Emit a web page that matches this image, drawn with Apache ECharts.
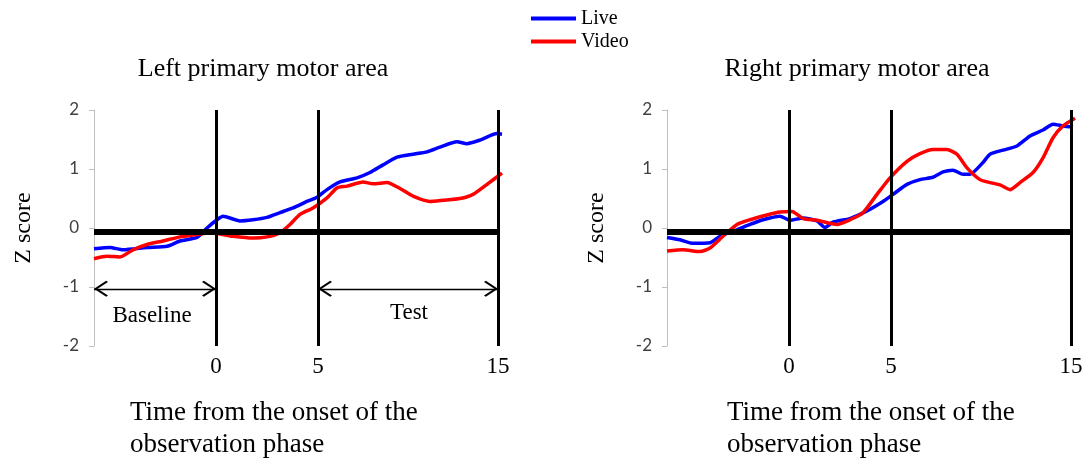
<!DOCTYPE html>
<html>
<head>
<meta charset="utf-8">
<script src="https://cdn.jsdelivr.net/npm/echarts@6/dist/echarts.min.js"></script>
<style>
  html, body { margin: 0; padding: 0; background: #fff; }
  #chart { width: 1091px; height: 465px; }
</style>
</head>
<body>
<div id="chart"></div>
<script>
// x is a sample index along the trace; the marks 0 / 5 / 15 s sit at these indices
var markX = [61, 112, 202];
var markText = ['0', '5', '15'];
var yTicks = [-2, -1, 0, 1, 2];

// Left primary motor area
var leftLiveX = [0, 8, 14.5, 26.5, 36.5, 43, 51.5, 56.5, 61.5, 64.5, 73, 79.5, 86.5, 93, 99.5, 106.5, 111.5, 116.5, 123, 131.5, 138, 144.5, 151.5, 159.5, 166.5, 173, 181.5, 186.5, 193, 201.5, 204];
var leftLiveY = [-0.35, -0.33, -0.37, -0.33, -0.31, -0.22, -0.16, 0, 0.14, 0.2, 0.12, 0.14, 0.18, 0.26, 0.34, 0.45, 0.52, 0.65, 0.78, 0.85, 0.94, 1.07, 1.2, 1.25, 1.29, 1.37, 1.46, 1.43, 1.49, 1.6, 1.59];
var leftVideoX = [0, 6.5, 13, 19.5, 26.5, 34.5, 43, 51.5, 58, 69.5, 79.5, 86.5, 93, 98, 103, 109.5, 116.5, 121.5, 126.5, 134.5, 139.5, 146.5, 153, 159.5, 168, 174.5, 183, 189.5, 196.5, 204];
var leftVideoY = [-0.52, -0.48, -0.49, -0.37, -0.28, -0.22, -0.15, -0.11, -0.08, -0.14, -0.17, -0.15, -0.08, 0.06, 0.23, 0.34, 0.51, 0.68, 0.71, 0.78, 0.75, 0.77, 0.67, 0.54, 0.45, 0.47, 0.5, 0.57, 0.74, 0.93];

// Right primary motor area
var rightLiveX = [0, 6.5, 13, 21.5, 26.5, 35, 41.5, 48, 56.5, 61.5, 68, 75, 79, 83, 91.5, 100, 108, 113, 120, 126.5, 133, 138, 143, 148, 151.5, 158, 161.5, 168, 175, 181.5, 188, 193, 198, 203];
var rightLiveY = [-0.16, -0.2, -0.26, -0.25, -0.14, -0.03, 0.06, 0.14, 0.2, 0.13, 0.17, 0.12, 0.01, 0.1, 0.16, 0.29, 0.45, 0.57, 0.74, 0.82, 0.86, 0.95, 0.98, 0.91, 0.91, 1.11, 1.25, 1.32, 1.39, 1.56, 1.66, 1.76, 1.73, 1.71];
var rightVideoX = [0, 8, 16.5, 21.5, 28, 35, 41.5, 50, 56.5, 62.5, 68, 75, 85, 91.5, 98, 105, 111.5, 120, 126.5, 133, 140, 145, 150, 156.5, 161.5, 166.5, 171.5, 176.5, 183, 188, 193, 198, 204];
var rightVideoY = [-0.39, -0.37, -0.4, -0.34, -0.14, 0.06, 0.14, 0.22, 0.27, 0.28, 0.16, 0.13, 0.06, 0.14, 0.26, 0.57, 0.85, 1.13, 1.26, 1.33, 1.33, 1.25, 1.02, 0.82, 0.77, 0.73, 0.65, 0.77, 0.94, 1.19, 1.53, 1.73, 1.86];

var serif = '"Liberation Serif", "DejaVu Serif", serif';
var sans = 'Lato, "Liberation Sans", sans-serif';
var zeroLevel = -0.07; // heavy baseline drawn just under the 0 tick
var arrowLevel = -1.03;

function pairs(xs, ys) {
	return xs.map(function (x, i) { return [x, ys[i]]; });
}

function xAxisFor(idx) {
	return {
		gridIndex: idx, type: 'value', min: 0, max: 206,
		axisLine: { show: false }, axisTick: { show: false }, splitLine: { show: false },
		axisLabel: {
			customValues: markX, margin: 9, color: '#000', fontFamily: serif, fontSize: 23,
			formatter: function (v) { return markText[markX.indexOf(v)]; }
		}
	};
}

function yAxisFor(idx) {
	return {
		gridIndex: idx, type: 'value', min: yTicks[0], max: yTicks[yTicks.length - 1], interval: 1,
		name: 'Z score', nameLocation: 'middle', nameGap: 58,
		nameTextStyle: { color: '#000', fontFamily: serif, fontSize: 24 },
		axisLine: { show: true, lineStyle: { color: '#bfbfbf', width: 1 } },
		axisTick: { show: true, inside: false, length: 5, lineStyle: { color: '#bfbfbf' } },
		splitLine: { show: false },
		axisLabel: { margin: 15, color: '#404040', fontFamily: sans, fontSize: 17 }
	};
}

// open arrow head; the invisible dot on top keeps the tip at the symbol centre
var chevron = 'path://M10,-11.5 L10.01,-11.5 Z M0,10 L10,0 L20,10 L18.5,11.5 L10,3 L1.5,11.5 Z';

function guides() {
	var data = markX.map(function (x) { return { xAxis: x }; });
	data.push([{ coord: [0, zeroLevel], lineStyle: { width: 6 } }, { coord: [markX[2], zeroLevel] }]);
	return {
		silent: true, animation: false,
		symbol: ['none', 'none'],
		label: { show: false },
		lineStyle: { color: '#000', width: 3, type: 'solid' },
		data: data
	};
}

function arrowEnds() {
	return {
		silent: true, animation: false,
		symbol: [chevron, chevron], symbolSize: [16, 28],
		label: { show: false },
		lineStyle: { color: '#000', width: 1.4, type: 'solid' },
		data: [
			[{ coord: [0, arrowLevel] }, { coord: [markX[0], arrowLevel] }],
			[{ coord: [markX[1], arrowLevel] }, { coord: [markX[2], arrowLevel] }]
		]
	};
}

function lineSeries(name, color, idx, xs, ys, extra) {
	var s = {
		name: name, type: 'line', xAxisIndex: idx, yAxisIndex: idx,
		data: pairs(xs, ys), showSymbol: false, smooth: 0.2, clip: false,
		lineStyle: { color: color, width: 3.5 }, itemStyle: { color: color },
		z: 2
	};
	if (extra) Object.assign(s, extra);
	return s;
}

var titleStyle = { color: '#000', fontFamily: serif, fontSize: 26, fontWeight: 'normal' };
var xNameStyle = { color: '#000', fontFamily: serif, fontSize: 27, fontWeight: 'normal', lineHeight: 32 };

var chart = echarts.init(document.getElementById('chart'));
chart.setOption({
	animation: false,
	textStyle: { fontFamily: serif },
	title: [
		{ text: 'Left primary motor area', left: 258, top: 51, textAlign: 'center', textStyle: titleStyle },
		{ text: 'Right primary motor area', left: 852, top: 51, textAlign: 'center', textStyle: titleStyle },
		{ text: 'Time from the onset of the\nobservation phase', left: 125, top: 392, textStyle: xNameStyle },
		{ text: 'Time from the onset of the\nobservation phase', left: 722, top: 392, textStyle: xNameStyle }
	],
	legend: {
		data: ['Live', 'Video'], orient: 'vertical', left: 526, top: 3,
		icon: 'rect', itemWidth: 45, itemHeight: 4, itemGap: 2,
		textStyle: { color: '#000', fontFamily: serif, fontSize: 20, lineHeight: 21 }
	},
	grid: [
		{ left: 94, top: 110, width: 412, height: 236 },
		{ left: 667, top: 110, width: 412, height: 236 }
	],
	xAxis: [xAxisFor(0), xAxisFor(1)],
	yAxis: [yAxisFor(0), yAxisFor(1)],
	series: [
		lineSeries('Live', '#0000ff', 0, leftLiveX, leftLiveY, {
			markPoint: {
				silent: true, symbol: 'rect', symbolSize: 0,
				label: { show: true, position: 'inside', color: '#000', fontFamily: serif, fontSize: 23,
					formatter: function (p) { return p.name; } },
				data: [
					{ name: 'Baseline', coord: [29, -1.49] },
					{ name: 'Test', coord: [157.5, -1.44] }
				]
			}
		}),
		lineSeries('Video', '#ff0000', 0, leftVideoX, leftVideoY),
		lineSeries('Live', '#0000ff', 1, rightLiveX, rightLiveY),
		lineSeries('Video', '#ff0000', 1, rightVideoX, rightVideoY),
		// black reference lines (drawn on an empty helper series per grid)
		{ type: 'line', xAxisIndex: 0, yAxisIndex: 0, data: [], markLine: guides(), z: 3 },
		{ type: 'line', xAxisIndex: 0, yAxisIndex: 0, data: [], markLine: arrowEnds(), z: 3 },
		{ type: 'line', xAxisIndex: 1, yAxisIndex: 1, data: [], markLine: guides(), z: 3 }
	]
});
</script>
</body>
</html>
